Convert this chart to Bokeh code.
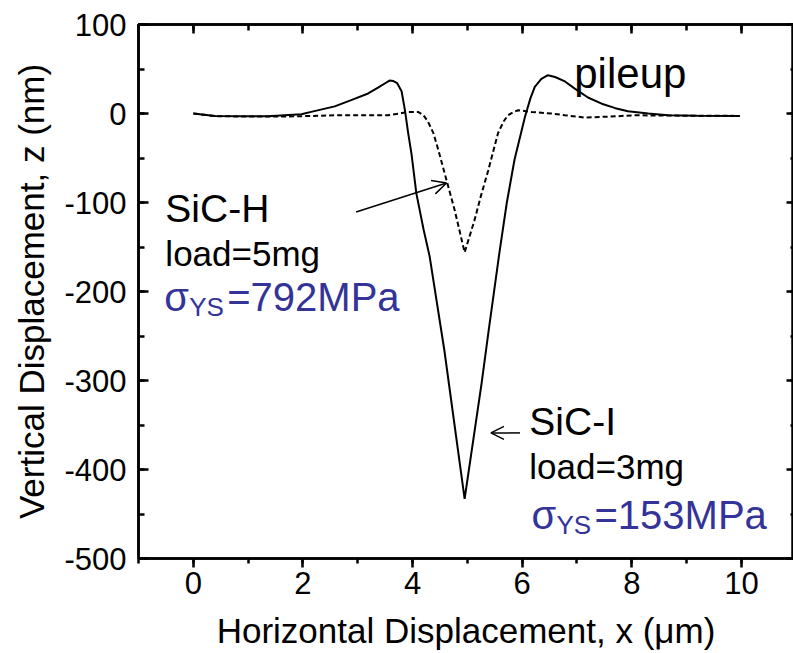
from bokeh.plotting import figure
from bokeh.models import (Range1d, LinearAxis, SingleIntervalTicker, Arrow, OpenHead,
                          CustomJSTickFormatter)
from bokeh.core.properties import value
from bokeh.embed import file_html
from bokeh.resources import INLINE

# SiC-I (solid), load=3mg
x_sic_i = [0, 0.4, 1.0, 1.36, 1.97, 2.15, 2.58, 2.88, 3.19, 3.37, 3.5, 3.58, 3.65, 3.72, 3.80, 3.86,
           3.92, 3.98, 4.07, 4.2, 4.31, 4.58, 4.95, 5.26, 5.39, 5.59, 5.72, 5.86, 6.05,
           6.15, 6.23, 6.35, 6.47, 6.6, 6.78, 6.96, 7.2, 7.45, 7.7, 7.93, 8.3, 8.66, 9.2, 9.97]
z_sic_i = [0, -2.7, -3, -3, -0.8, 1.8, 8, 15, 22.5, 29, 34, 37, 36.5, 34, 25, 4,
           -22, -45, -90, -130, -160, -266, -433, -303, -243, -154, -100, -52, -4,
           17, 30, 39, 43, 41, 36, 28, 18, 11, 6, 2.6, 0, -1.9, -2.5, -2.7]

# SiC-H (dashed), load=5mg
x_sic_h = [0, 0.4, 1.0, 1.5, 2.0, 2.58, 3.0, 3.55, 3.76, 3.92, 4.1, 4.2, 4.28, 4.38, 4.47,
           4.62, 4.77, 4.95, 5.13, 5.25, 5.38, 5.56, 5.66, 5.74, 5.85, 5.93, 6.17, 6.53,
           6.78, 7.14, 7.6, 8.05, 9.0, 9.97]
z_sic_h = [0, -3, -3.5, -3.5, -3, -2, -2, -2, 0, 1.8, 1.8, -2, -9, -22, -41,
           -75, -109, -156, -120, -92, -64, -22, -9, -2, 2, 3.7, 1.8, 0,
           -2, -4.5, -3.5, -2, -2.5, -2.7]

FONT = "Liberation Sans"
BLUE = "#333399"

p = figure(width=793, height=653, output_backend="svg", toolbar_location=None,
           x_range=Range1d(-1, 10.95), y_range=Range1d(-500, 100),
           min_border_left=138, min_border_right=0, min_border_top=24, min_border_bottom=95)

p.line(x_sic_i, z_sic_i, line_color="black", line_width=2)
p.line(x_sic_h, z_sic_h, line_color="black", line_width=2, line_dash="5 3")

# mirror axes (ticks only)
top = LinearAxis(axis_line_color="black", major_label_text_alpha=0, major_label_text_font_size="8px",
                 ticker=SingleIntervalTicker(interval=2, num_minor_ticks=2),
                 major_tick_in=9, major_tick_out=0, minor_tick_in=6, minor_tick_out=0,
                 axis_line_width=2.5, major_tick_line_width=2.5, minor_tick_line_width=2.5)
p.add_layout(top, "above")
right = LinearAxis(axis_line_color="black", formatter=CustomJSTickFormatter(code="return '';"),
                   ticker=SingleIntervalTicker(interval=100, num_minor_ticks=2),
                   major_tick_in=7, major_tick_out=0, minor_tick_in=3, minor_tick_out=0,
                   major_tick_line_width=2.5, minor_tick_line_width=2.5)
p.add_layout(right, "right")

# frame outline gives the top border line
p.outline_line_color = "black"
p.outline_line_width = 2.5
p.xgrid.grid_line_color = None
p.ygrid.grid_line_color = None

plain = CustomJSTickFormatter(code="return tick.toString();")
bottom = p.below[0]
left = p.left[0]
bottom.ticker = SingleIntervalTicker(interval=2, num_minor_ticks=2)
left.ticker = SingleIntervalTicker(interval=100, num_minor_ticks=2)
bottom.formatter = plain
left.formatter = plain

for ax in (bottom, left):
    ax.axis_line_width = 2.5
    ax.major_tick_line_width = 2.5
    ax.minor_tick_line_width = 2.5
    ax.major_label_text_font = FONT
    ax.major_label_text_font_size = "31px"
    ax.major_label_text_color = "black"
    ax.axis_label_text_font = FONT
    ax.axis_label_text_font_size = "35px"
    ax.axis_label_text_font_style = "normal"
    ax.axis_label_text_color = "black"

bottom.axis_label = "Horizontal Displacement, x (\u03bcm)"
left.axis_label = "Vertical Displacement, z (nm)"
bottom.major_tick_in = 0
bottom.major_tick_out = 9
bottom.minor_tick_in = 0
bottom.minor_tick_out = 5
bottom.major_label_standoff = 4
bottom.axis_label_standoff = 14
left.major_tick_in = 10
left.major_tick_out = 0
left.minor_tick_in = 6
left.minor_tick_out = 0
left.major_label_standoff = 12
left.axis_label_standoff = 10

def txt(x, y, s, size, color="black", xoff=0, yoff=0):
    p.text(x=[x], y=[y], text=[s], text_font=value(FONT), text_font_size=size,
           text_color=color, text_align="left", text_baseline="alphabetic",
           x_offset=xoff, y_offset=yoff)

txt(6.95, 45.3, "pileup", "42px")
txt(-0.51, -106.7, "SiC-H", "39px")
txt(-0.51, -157.3, "load=5mg", "35px")
txt(-0.53, -206.4, "\u03c3", "40px", BLUE)
txt(-0.53, -206.4, "YS", "26px", BLUE, xoff=25, yoff=10)
txt(-0.53, -206.4, "=792MPa", "40px", BLUE, xoff=63)

txt(6.13, -346.5, "SiC-I", "39px")
txt(6.13, -397.0, "load=3mg", "35px")
txt(6.17, -451.3, "\u03c3", "40px", BLUE)
txt(6.17, -451.3, "YS", "26px", BLUE, xoff=25, yoff=10)
txt(6.17, -451.3, "=153MPa", "40px", BLUE, xoff=63)

p.add_layout(Arrow(end=OpenHead(size=14, line_width=1.5, line_color="black"),
                   x_start=2.97, y_start=-110.6, x_end=4.62, y_end=-78,
                   line_width=1.5, line_color="black"))
p.add_layout(Arrow(end=OpenHead(size=13, line_width=1.5, line_color="black"),
                   x_start=5.96, y_start=-358.9, x_end=5.43, y_end=-358.9,
                   line_width=1.5, line_color="black"))

open("out.html", "w").write(file_html(p, INLINE))
